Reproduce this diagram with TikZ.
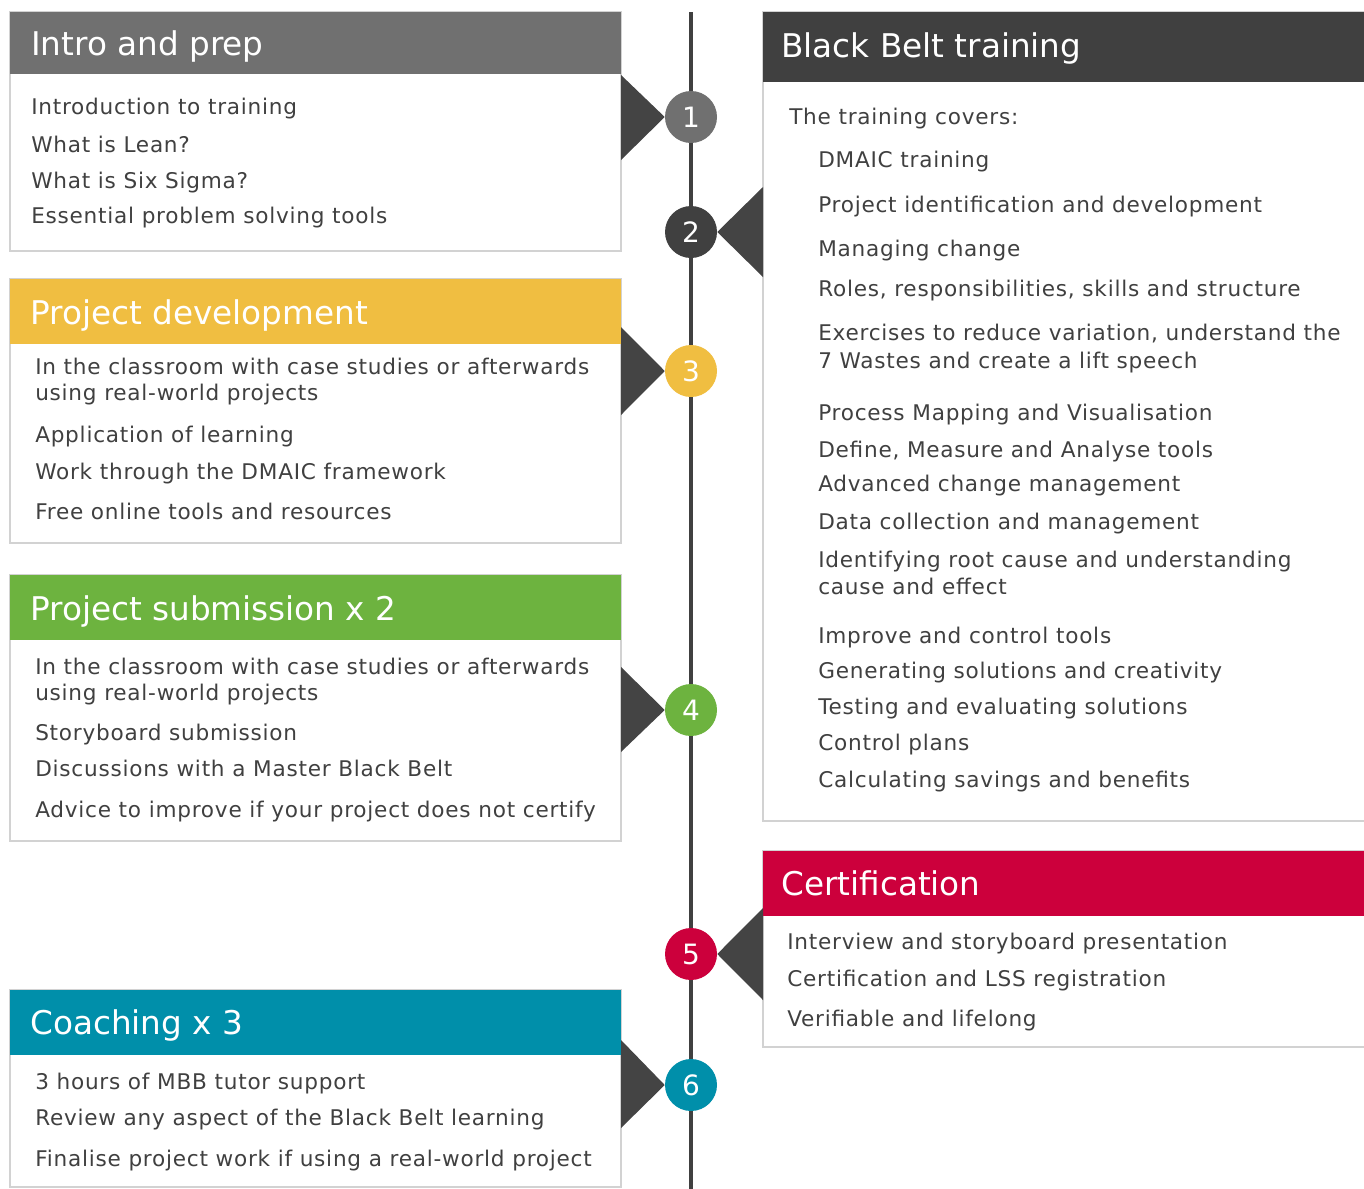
\documentclass[tikz,border=0pt]{standalone}
\usepackage{fontspec}
\setmainfont{DejaVu Sans}
\newfontfamily\bodyfont[LetterSpace=3.5]{DejaVu Sans}
\definecolor{cgray}{HTML}{707070}
\definecolor{cdark}{HTML}{404040}
\definecolor{cyellow}{HTML}{F0BE41}
\definecolor{cgreen}{HTML}{6DB33F}
\definecolor{cred}{HTML}{CC003C}
\definecolor{cteal}{HTML}{008FAA}
\definecolor{cline}{HTML}{D2D2D2}
\definecolor{ctext}{HTML}{404040}
\definecolor{ctri}{HTML}{444444}
\begin{document}
\begin{tikzpicture}[x=0.75pt,y=-0.75pt,
  panel/.style={draw=cline,line width=1.1pt,fill=white},
  title/.style={anchor=base west,inner sep=0pt,text=white,font=\fontsize{24.5}{28}\selectfont},
  item/.style={anchor=base west,inner sep=0pt,text=ctext,font=\bodyfont\fontsize{16.2}{19}\selectfont},
  stepdot/.style={circle,minimum size=52*0.75pt,inner sep=0pt,text=white,font=\fontsize{21}{24}\selectfont},
  tri/.style={fill=ctri}]
\useasboundingbox (0,0) rectangle (1364,1189);
\clip (0,0) rectangle (1364,1189);
\fill[white] (0,0) rectangle (1364,1189);

% timeline
\coordinate (ttop) at (691,12);
\coordinate (tbot) at (691,1192);
\draw[cdark,line width=3pt] (ttop) -- (tbot);

% left panels
\draw[panel] (10,12) rectangle (621,251);
\fill[cgray] (10,12) rectangle (621,74);
\draw[panel] (10,279) rectangle (621,543);
\fill[cyellow] (10,279) rectangle (621,344);
\draw[panel] (10,575) rectangle (621,841);
\fill[cgreen] (10,575) rectangle (621,640);
\draw[panel] (10,990) rectangle (621,1187);
\fill[cteal] (10,990) rectangle (621,1055);
% right panels
\draw[panel] (763,12) rectangle (1370,821);
\fill[cdark] (763,12) rectangle (1370,82);
\draw[panel] (763,851) rectangle (1370,1047);
\fill[cred] (763,851) rectangle (1370,916);

% step circles
\node[stepdot,fill=cgray] (c1) at (691,117) {1};
\node[stepdot,fill=cdark] (c2) at (691,232) {2};
\node[stepdot,fill=cyellow] (c3) at (691,371) {3};
\node[stepdot,fill=cgreen] (c4) at (691,710) {4};
\node[stepdot,fill=cred] (c5) at (691,954) {5};
\node[stepdot,fill=cteal] (c6) at (691,1085) {6};

% pointers
\coordinate (p1a) at (621,75);  \coordinate (p1b) at (621,160);
\coordinate (p2a) at (763,187); \coordinate (p2b) at (763,277);
\coordinate (p3a) at (621,327); \coordinate (p3b) at (621,415);
\coordinate (p4a) at (621,667); \coordinate (p4b) at (621,752);
\coordinate (p5a) at (763,908); \coordinate (p5b) at (763,1000);
\coordinate (p6a) at (621,1040);\coordinate (p6b) at (621,1128);
\fill[tri] (p1a) -- (c1.west) -- (p1b) -- cycle;
\fill[tri] (p2a) -- (c2.east) -- (p2b) -- cycle;
\fill[tri] (p3a) -- (c3.west) -- (p3b) -- cycle;
\fill[tri] (p4a) -- (c4.west) -- (p4b) -- cycle;
\fill[tri] (p5a) -- (c5.east) -- (p5b) -- cycle;
\fill[tri] (p6a) -- (c6.west) -- (p6b) -- cycle;

% titles
\node[title] (t1) at (31,55) {Intro and prep};
\node[title] (t3) at (30,324) {Project development};
\node[title] (t4) at (30,620) {Project submission x 2};
\node[title] (t6) at (30,1034) {Coaching x 3};
\node[title] (t2) at (781,57) {Black Belt training};
\node[title] (t5) at (781,895) {Certification};

% panel 1
\node[item] (a1) at (31,114) {Introduction to training};
\node[item] (a2) at (31,152) {What is Lean?};
\node[item] (a3) at (31,188) {What is Six Sigma?};
\node[item] (a4) at (31,223) {Essential problem solving tools};
% panel 3
\node[item] (b1) at (35,374) {In the classroom with case studies or afterwards};
\node[item] (b2) at (35,400) {using real-world projects};
\node[item] (b3) at (35,442) {Application of learning};
\node[item] (b4) at (35,479) {Work through the DMAIC framework};
\node[item] (b5) at (35,519) {Free online tools and resources};
% panel 4
\node[item] (d1) at (35,674) {In the classroom with case studies or afterwards};
\node[item] (d2) at (35,700) {using real-world projects};
\node[item] (d3) at (35,740) {Storyboard submission};
\node[item] (d4) at (35,776) {Discussions with a Master Black Belt};
\node[item] (d5) at (35,817) {Advice to improve if your project does not certify};
% panel 6
\node[item] (f1) at (35,1089) {3 hours of MBB tutor support};
\node[item] (f2) at (35,1125) {Review any aspect of the Black Belt learning};
\node[item] (f3) at (35,1166) {Finalise project work if using a real-world project};
% panel 2
\node[item] (g0) at (789,124) {The training covers:};
\node[item] (g1) at (818,167) {DMAIC training};
\node[item] (g2) at (818,212) {Project identification and development};
\node[item] (g3) at (818,256) {Managing change};
\node[item] (g4) at (818,296) {Roles, responsibilities, skills and structure};
\node[item] (g5) at (818,340) {Exercises to reduce variation, understand the};
\node[item] (g6) at (818,368) {7 Wastes and create a lift speech};
\node[item] (g7) at (818,420) {Process Mapping and Visualisation};
\node[item] (g8) at (818,457) {Define, Measure and Analyse tools};
\node[item] (g9) at (818,491) {Advanced change management};
\node[item] (g10) at (818,529) {Data collection and management};
\node[item] (g11) at (818,567) {Identifying root cause and understanding};
\node[item] (g12) at (818,594) {cause and effect};
\node[item] (g13) at (818,643) {Improve and control tools};
\node[item] (g14) at (818,678) {Generating solutions and creativity};
\node[item] (g15) at (818,714) {Testing and evaluating solutions};
\node[item] (g16) at (818,750) {Control plans};
\node[item] (g17) at (818,787) {Calculating savings and benefits};
% panel 5
\node[item] (h1) at (787,949) {Interview and storyboard presentation};
\node[item] (h2) at (787,986) {Certification and LSS registration};
\node[item] (h3) at (787,1026) {Verifiable and lifelong};
\end{tikzpicture}
\end{document}
